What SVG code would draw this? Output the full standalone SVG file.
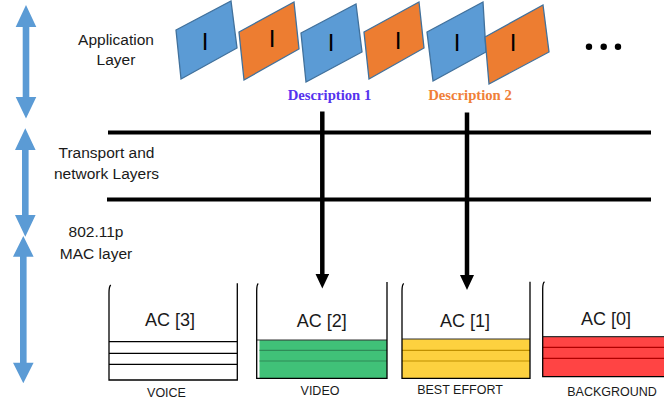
<svg xmlns="http://www.w3.org/2000/svg" width="664" height="405" viewBox="0 0 664 405">
<style>
.lbl{font-family:"Liberation Sans",Arial,sans-serif;font-size:15.5px;fill:#1a1a1a;text-anchor:middle}
.ac{font-family:"Liberation Sans",Arial,sans-serif;font-size:18px;fill:#1a1a1a;text-anchor:middle}
.cat{font-family:"Liberation Sans",Arial,sans-serif;font-size:12.5px;fill:#1a1a1a;text-anchor:middle}
.i{font-family:"Liberation Sans",Arial,sans-serif;font-size:24px;fill:#000;text-anchor:middle}
.desc{font-family:"Liberation Serif","Times New Roman",serif;font-size:14.7px;font-weight:bold;text-anchor:middle}
.blue{fill:#5b9bd5;stroke:#41719c;stroke-width:1.3}
.orange{fill:#ed7d31;stroke:#41719c;stroke-width:1.3}
.dbl{fill:#5b9bd5}
.box{fill:none;stroke:#000;stroke-width:1.3}
.bar{stroke:#000;stroke-width:4}
.conn{stroke:#000;stroke-width:4.5;marker-end:url(#ah)}
</style>
<defs>
<marker id="ah" markerUnits="userSpaceOnUse" markerWidth="16" markerHeight="14" viewBox="0 0 16 14" refX="0.5" refY="7" orient="auto">
<path d="M0,0 L15,7 L0,14 Z" fill="#000"/>
</marker>
</defs>

<g id="layer-arrows">
<polygon class="dbl" points="26,5 36.3,27 29.3,27 29.3,97 36.3,97 26,118.5 15.7,97 22.7,97 22.7,27 15.7,27"/>
<polygon class="dbl" points="25.3,128.3 35.6,150 28.6,150 28.6,215 35.6,215 25.3,236.7 15,215 22,215 22,150 15,150"/>
<polygon class="dbl" points="23.3,236 33.6,256.7 26.6,256.7 26.6,362.7 33.6,362.7 23.3,383.3 13,362.7 20,362.7 20,256.7 13,256.7"/>
</g>

<g id="layer-labels">
<text class="lbl" x="116" y="44.5">Application</text>
<text class="lbl" x="116" y="65">Layer</text>
<text class="lbl" x="106.5" y="157.5">Transport and</text>
<text class="lbl" x="106.5" y="178.5">network Layers</text>
<text class="lbl" x="96" y="237">802.11p</text>
<text class="lbl" x="96" y="258.5">MAC layer</text>
</g>

<g id="frames">
<g id="frame1"><polygon class="blue" points="176,30 231,1 237,48 181,79"/><text class="i" x="205" y="49.5">I</text></g>
<g id="frame2"><polygon class="orange" points="239,32 294,2 299,49 244,80"/><text class="i" x="272" y="46.5">I</text></g>
<g id="frame3"><polygon class="blue" points="301,33 356,4 362,52 306,82"/><text class="i" x="331" y="51">I</text></g>
<g id="frame4"><polygon class="orange" points="364,32 419,2 424,48 369,79"/><text class="i" x="398" y="49">I</text></g>
<g id="frame5"><polygon class="blue" points="427,32 483,2 486,52 433,81"/><text class="i" x="457" y="50.5">I</text></g>
<g id="frame6"><polygon class="orange" points="485,37 543,5 549,52 489,84"/><text class="i" x="513" y="50.5">I</text></g>
<g id="ellipsis">
<circle cx="589" cy="46.7" r="3.2" fill="#000"/>
<circle cx="603.7" cy="46.7" r="3.2" fill="#000"/>
<circle cx="618" cy="46.7" r="3.2" fill="#000"/>
</g>
</g>

<g id="descriptions">
<text class="desc" x="329.5" y="99.5" fill="#5533ee">Description 1</text>
<text class="desc" x="470" y="99.5" fill="#f08038">Description 2</text>
</g>

<g id="layer-bars">
<line class="bar" x1="108" y1="132.5" x2="651" y2="132.5"/>
<line class="bar" x1="107" y1="199.5" x2="651" y2="199.5"/>
</g>

<g id="connectors">
<line class="conn" x1="322.3" y1="111.5" x2="322.3" y2="274"/>
<line class="conn" x1="467" y1="112.5" x2="467" y2="275.5"/>
</g>

<g id="ac3">
<line x1="109" y1="341.7" x2="237" y2="341.7" stroke="#000" stroke-width="1.2"/>
<line x1="109" y1="353.3" x2="237" y2="353.3" stroke="#000" stroke-width="1.2"/>
<line x1="109" y1="364.3" x2="237" y2="364.3" stroke="#000" stroke-width="1.2"/>
<path class="box" d="M110.8,285 C109.4,286 109,288.5 109,293 L109,380 L237.3,380 L237.3,283.3"/>
<text class="ac" x="170" y="326">AC [3]</text>
<text class="cat" x="166.5" y="396.5">VOICE</text>
</g>

<g id="ac2">
<rect x="259.5" y="340" width="127.5" height="38.3" fill="#40c178"/>
<line x1="257" y1="340" x2="387" y2="340" stroke="#333" stroke-width="1.2"/>
<line x1="259.5" y1="350.3" x2="387" y2="350.3" stroke="#2e8b57" stroke-width="1.2"/>
<line x1="259.5" y1="361" x2="387" y2="361" stroke="#2e8b57" stroke-width="1.2"/>
<path class="box" d="M258.3,283.5 C257,284.5 256.7,287 256.7,291 L256.7,378.3 L387,378.3 L387,282"/>
<text class="ac" x="321.7" y="327">AC [2]</text>
<text class="cat" x="320" y="395">VIDEO</text>
</g>

<g id="ac1">
<rect x="402" y="339" width="128" height="39.3" fill="#fdd13f"/>
<line x1="402" y1="339" x2="530" y2="339" stroke="#333" stroke-width="1.2"/>
<line x1="402" y1="350.3" x2="530" y2="350.3" stroke="#c09000" stroke-width="1.2"/>
<line x1="402" y1="361" x2="530" y2="361" stroke="#c09000" stroke-width="1.2"/>
<path class="box" d="M403.8,283.5 C402.4,284.5 402,287 402,291 L402,378.3 L530,378.3 L530,281.7"/>
<text class="ac" x="465" y="327">AC [1]</text>
<text class="cat" x="460" y="394">BEST EFFORT</text>
</g>

<g id="ac0">
<rect x="543" y="336.7" width="121" height="40" fill="#ff4444"/>
<line x1="543" y1="336.7" x2="664" y2="336.7" stroke="#333" stroke-width="1.2"/>
<line x1="543" y1="347.3" x2="664" y2="347.3" stroke="#b00000" stroke-width="1.2"/>
<line x1="543" y1="358.3" x2="664" y2="358.3" stroke="#b00000" stroke-width="1.2"/>
<path class="box" d="M544.5,281.7 C543.1,282.7 542.7,285 542.7,289 L542.7,376.7 L664,376.7"/>
<text class="ac" x="606" y="324.5">AC [0]</text>
<text class="cat" x="612" y="395.5">BACKGROUND</text>
</g>
</svg>
